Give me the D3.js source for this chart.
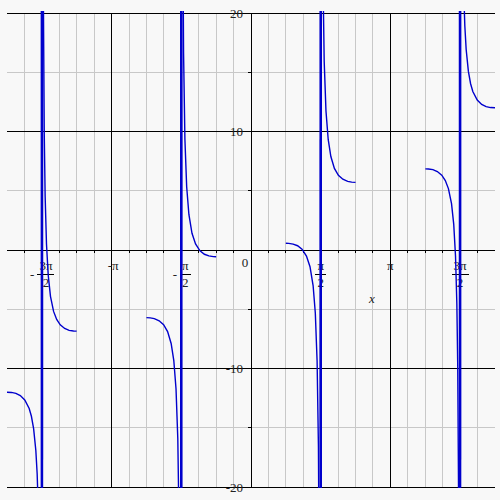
<!DOCTYPE html>
<html>
<head>
<meta charset="utf-8">
<script src="https://cdn.jsdelivr.net/npm/d3@7"></script>
<style>
  body { margin: 0; background: #f8f8f8; }
  text { font-family: "Liberation Serif", "DejaVu Serif", serif; fill: #222; }
</style>
</head>
<body>
<svg id="chart" width="500" height="500"></svg>
<script>
'use strict';

const PI = Math.PI;

// Curve pieces, [x, y]. Each piece runs through one asymptote.
const curveA = [[-5.50, -12.00], [-5.40, -12.02], [-5.30, -12.10], [-5.20, -12.28], [-5.10, -12.65],
  [-5.00, -13.38], [-4.95, -14.03], [-4.90, -15.07], [-4.85, -16.92], [-4.82, -18.90], [-4.79, -22.44],
  [-4.76, -30.5], [-4.73, -66.3], [-4.716, -287], [-4.709, 284.6], [-4.70, 71.2], [-4.68, 21.49],
  [-4.66, 9.75], [-4.64, 4.51], [-4.61, 0.51], [-4.57, -2.16], [-4.52, -3.91], [-4.45, -5.18],
  [-4.38, -5.86], [-4.30, -6.31], [-4.20, -6.62], [-4.10, -6.78], [-4.00, -6.84], [-3.93, -6.85]];

const curveB = [[-2.356, -5.71], [-2.27, -5.73], [-2.18, -5.79], [-2.07, -5.97], [-1.97, -6.31],
  [-1.88, -6.89], [-1.80, -7.89], [-1.74, -9.33], [-1.69, -11.73], [-1.65, -15.9], [-1.62, -23.55],
  [-1.60, -37.44], [-1.585, -73.6], [-1.575, -241], [-1.567, 260], [-1.56, 89.5], [-1.54, 29.38],
  [-1.52, 16.63], [-1.49, 9.37], [-1.45, 5.34], [-1.40, 3.00], [-1.33, 1.41], [-1.25, 0.51],
  [-1.15, -0.07], [-1.05, -0.36], [-0.95, -0.50], [-0.85, -0.56], [-0.785, -0.57]];

const curveC = [[0.785, 0.57], [0.85, 0.56], [0.95, 0.50], [1.05, 0.36], [1.15, 0.07], [1.25, -0.51],
  [1.33, -1.41], [1.40, -3.00], [1.45, -5.34], [1.49, -9.37], [1.52, -16.63], [1.54, -29.38],
  [1.56, -89.5], [1.567, -260], [1.575, 241], [1.585, 73.6], [1.60, 37.44], [1.62, 23.55],
  [1.65, 15.9], [1.69, 11.73], [1.74, 9.33], [1.80, 7.89], [1.88, 6.89], [1.97, 6.31], [2.07, 5.97],
  [2.18, 5.79], [2.27, 5.73], [2.356, 5.71]];

const curveD = [[3.93, 6.85], [4.00, 6.84], [4.10, 6.78], [4.20, 6.62], [4.30, 6.31], [4.38, 5.86],
  [4.45, 5.18], [4.52, 3.91], [4.57, 2.16], [4.61, -0.51], [4.64, -4.51], [4.66, -9.75],
  [4.68, -21.49], [4.70, -71.2], [4.709, -284.6], [4.716, 287], [4.73, 66.3], [4.76, 30.5],
  [4.79, 22.44], [4.82, 18.90], [4.85, 16.92], [4.90, 15.07], [4.95, 14.03], [5.00, 13.38],
  [5.10, 12.65], [5.20, 12.28], [5.30, 12.10], [5.40, 12.02], [5.50, 12.00]];

// x ticks in multiples of pi, with numerator / denominator text
const piTicks = [-1.5, -1, -0.5, 0.5, 1, 1.5];
const piNums = ['3π', 'π', 'π', 'π', 'π', '3π'];
const piDens = ['2', '', '2', '2', '', '2'];
const yTicks = [-20, -10, 10, 20];

const svg = d3.select('#chart');
const width = 500, height = 500;

const x = d3.scaleLinear().domain([-5.5, 5.5]).range([7, 495]);
const y = d3.scaleLinear().domain([-20, 20]).range([487, 13]);

svg.append('rect').attr('width', width).attr('height', height).attr('fill', '#f8f8f8');

// Grid: every pi/8 across, every 5 up. Black on whole pi and on tens.
const gridX = d3.range(-13, 14).map(k => k * PI / 8);
const gridY = d3.range(-20, 21, 5);
const grid = svg.append('g').attr('shape-rendering', 'crispEdges');

grid.selectAll('line.gx')
  .data(gridX.filter(v => Math.abs(Math.round(v / PI) * PI - v) > 1e-6))
  .join('line')
  .attr('x1', d => x(d)).attr('x2', d => x(d))
  .attr('y1', y(20)).attr('y2', y(-20))
  .attr('stroke', '#c8c8c8');

grid.selectAll('line.gy')
  .data(gridY.filter(v => v % 10 !== 0))
  .join('line')
  .attr('x1', x(-5.5)).attr('x2', x(5.5))
  .attr('y1', d => y(d)).attr('y2', d => y(d))
  .attr('stroke', '#c8c8c8');

grid.selectAll('line.bx')
  .data([-PI, 0, PI])
  .enter().append('line')
  .attr('x1', d => x(d)).attr('x2', d => x(d))
  .attr('y1', y(20)).attr('y2', y(-20))
  .attr('stroke', '#000');

grid.selectAll('line.by')
  .data(gridY.filter(v => v % 10 === 0))
  .enter().append('line')
  .attr('x1', x(-5.5)).attr('x2', x(5.5))
  .attr('y1', d => y(d)).attr('y2', d => y(d))
  .attr('stroke', '#000');

// small ticks on the axes
grid.selectAll('line.tx')
  .data(gridX)
  .enter().append('line')
  .attr('x1', d => x(d)).attr('x2', d => x(d))
  .attr('y1', y(0)).attr('y2', y(0) + 3)
  .attr('stroke', '#000');

grid.selectAll('line.ty')
  .data(gridY)
  .enter().append('line')
  .attr('x1', x(0) - 3).attr('x2', x(0))
  .attr('y1', d => y(d)).attr('y2', d => y(d))
  .attr('stroke', '#000');

// y labels
svg.selectAll('text.yl')
  .data(yTicks)
  .enter().append('text')
  .attr('x', x(0) - 8)
  .attr('y', d => y(d) + 4.5)
  .attr('text-anchor', 'end')
  .attr('font-size', 13)
  .text(d => (d < 0 ? '-' : '') + Math.abs(d));

// x labels
const xl = svg.append('g');
piTicks.forEach((t, i) => {
  const cx = x(t * PI);
  if (!piDens[i]) {
    xl.append('text')
      .attr('x', cx + (t < 0 ? 1.5 : 0)).attr('y', 270)
      .attr('text-anchor', 'middle').attr('font-size', 13)
      .text((t < 0 ? '-' : '') + piNums[i]);
    return;
  }
  const fc = cx + (t < 0 ? 4 : 0);
  const num = xl.append('text')
    .attr('x', fc).attr('y', 269.5)
    .attr('text-anchor', 'middle').attr('font-size', 13)
    .text(piNums[i]);
  const w = num.node().getComputedTextLength() + 4;
  xl.append('line')
    .attr('x1', fc - w / 2).attr('x2', fc + w / 2)
    .attr('y1', 274.5).attr('y2', 274.5)
    .attr('stroke', '#000').attr('shape-rendering', 'crispEdges');
  xl.append('text')
    .attr('x', fc).attr('y', 287)
    .attr('text-anchor', 'middle').attr('font-size', 13)
    .text(piDens[i]);
  if (t < 0) {
    xl.append('text')
      .attr('x', fc - w / 2 - 3).attr('y', 278.5)
      .attr('text-anchor', 'end').attr('font-size', 13)
      .text('-');
  }
});

xl.append('text')
  .attr('x', x(0) - 6).attr('y', 266.5)
  .attr('text-anchor', 'middle').attr('font-size', 13)
  .text('0');

xl.append('text')
  .attr('x', 372).attr('y', 303)
  .attr('text-anchor', 'middle').attr('font-size', 13)
  .attr('font-style', 'italic')
  .text('x');

// the curve
svg.append('clipPath').attr('id', 'clip')
  .append('rect')
  .attr('x', x(-5.5)).attr('y', 11)
  .attr('width', x(5.5) - x(-5.5)).attr('height', 477);

const line = d3.line().x(d => x(d[0])).y(d => y(d[1]));
const plot = svg.append('g').attr('clip-path', 'url(#clip)');
const curves = [curveA, curveB, curveC, curveD];

plot.selectAll('path.curve')
  .data(curves)
  .enter().append('path')
  .attr('class', 'curve')
  .attr('d', line)
  .attr('fill', 'none')
  .attr('stroke', '#0000cc')
  .attr('stroke-width', 1.4);

// the jump across each asymptote shows as a heavier upright stroke
const jumps = curves.map(c => {
  const i = c.findIndex((p, k) => k > 0 && Math.sign(p[1]) !== Math.sign(c[k - 1][1]) && Math.abs(p[1]) > 100);
  return [c[i - 1], c[i]];
});

plot.selectAll('path.jump')
  .data(jumps)
  .enter().append('path')
  .attr('d', line)
  .attr('fill', 'none')
  .attr('stroke', '#0000cc')
  .attr('stroke-width', 2.6);
</script>
</body>
</html>
